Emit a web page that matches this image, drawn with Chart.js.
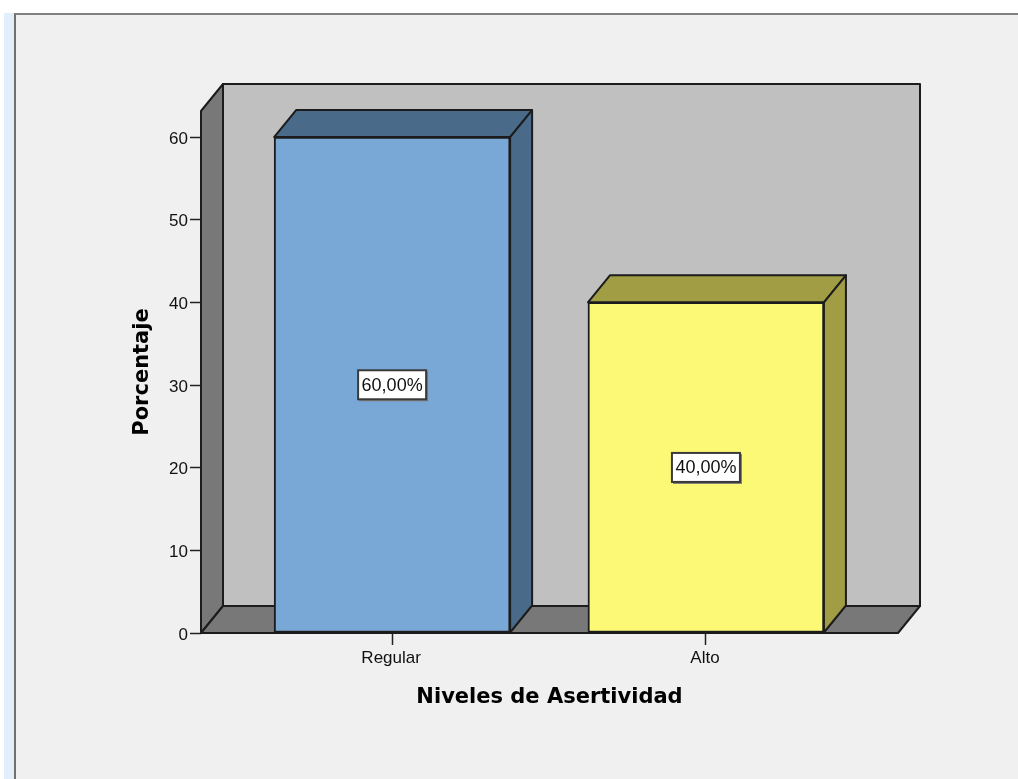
<!DOCTYPE html>
<html>
<head>
<meta charset="utf-8">
<script src="https://cdn.jsdelivr.net/npm/chart.js@4"></script>
<style>
html,body{margin:0;padding:0;background:#fff;width:1018px;height:779px;overflow:hidden}
#strip{position:absolute;left:4px;top:13px;width:10px;height:766px;background:#e2eefb}
#panel{position:absolute;left:14px;top:13px;width:1004px;height:766px;background:#f0f0f0;border-left:2px solid #707070;border-top:2px solid #808080;box-sizing:border-box}
canvas{position:absolute;left:0;top:0}
</style>
</head>
<body>
<div id="strip"></div><div id="panel"></div>
<canvas id="c" width="1018" height="779"></canvas>
<script>
const categories = ['Regular', 'Alto'];
const percentages = [60, 40];
const valueLabels = ['60,00%', '40,00%'];
const yTicks = [0, 10, 20, 30, 40, 50, 60];
const faceColors = ['#7aa8d6', '#fcf977'];
const shadeColors = ['#4a6a8a', '#a19d45'];
const xTitle = 'Niveles de Asertividad';
const yTitle = 'Porcentaje';

const DX = 22, DY = 27;
const EDGE = '#1c1c1c';

function poly(ctx, pts, fill) {
  ctx.beginPath();
  pts.forEach((p, i) => i ? ctx.lineTo(p[0], p[1]) : ctx.moveTo(p[0], p[1]));
  ctx.closePath();
  ctx.fillStyle = fill;
  ctx.fill();
  ctx.lineWidth = 2;
  ctx.strokeStyle = EDGE;
  ctx.lineJoin = 'round';
  ctx.stroke();
}

const box3d = {
  id: 'box3d',
  beforeDatasetsDraw(chart) {
    const {ctx, chartArea: a} = chart;
    ctx.save();
    poly(ctx, [[a.left + DX, a.top - DY], [a.right + DX, a.top - DY], [a.right + DX, a.bottom - DY], [a.left + DX, a.bottom - DY]], '#c0c0c0');
    poly(ctx, [[a.left, a.top], [a.left + DX, a.top - DY], [a.left + DX, a.bottom - DY], [a.left, a.bottom]], '#787878');
    poly(ctx, [[a.left, a.bottom], [a.left + DX, a.bottom - DY], [a.right + DX, a.bottom - DY], [a.right, a.bottom]], '#787878');
    chart.getDatasetMeta(0).data.forEach((bar, i) => {
      const p = bar.getProps(['x', 'y', 'base', 'width'], true);
      const l = p.x - p.width / 2, r = p.x + p.width / 2;
      poly(ctx, [[l, p.y], [l + DX, p.y - DY], [r + DX, p.y - DY], [r, p.y]], shadeColors[i]);
      poly(ctx, [[r, p.y], [r + DX, p.y - DY], [r + DX, p.base - DY], [r, p.base]], shadeColors[i]);
    });
    ctx.restore();
  },
  afterDatasetsDraw(chart) {
    const {ctx} = chart;
    ctx.save();
    ctx.font = '18px "Liberation Sans"';
    ctx.textAlign = 'center';
    ctx.textBaseline = 'middle';
    chart.getDatasetMeta(0).data.forEach((bar, i) => {
      const p = bar.getProps(['x', 'y', 'base'], true);
      const cy = (p.y + p.base) / 2;
      const w = 68, h = 29;
      const bx = p.x - w / 2, by = cy - h / 2;
      ctx.fillStyle = '#7c7c7c';
      ctx.fillRect(bx + 1, by + 1, w + 1, h + 1);
      ctx.fillStyle = '#fff';
      ctx.fillRect(bx, by, w, h);
      ctx.strokeStyle = '#3a3a3a';
      ctx.lineWidth = 2;
      ctx.strokeRect(bx, by, w, h);
      ctx.fillStyle = '#111';
      ctx.fillText(valueLabels[i], p.x, cy + 1);
    });
    ctx.restore();
  }
};

new Chart(document.getElementById('c'), {
  type: 'bar',
  data: {
    datasets: [{
      data: categories.map((c, i) => ({x: i + 1, y: percentages[i]})),
      backgroundColor: faceColors,
      borderColor: EDGE,
      borderWidth: 2,
      borderSkipped: false,
      barThickness: 236
    }]
  },
  options: {
    responsive: false,
    animation: false,
    events: [],
    layout: {padding: {left: 0, right: 120, top: 111, bottom: 0}},
    plugins: {legend: {display: false}, tooltip: {enabled: false}},
    scales: {
      x: {
        type: 'linear',
        offset: false,
        min: 0.391,
        max: 2.612,
        afterFit(s) { s.height = 146; },
        afterBuildTicks(s) { s.ticks = categories.map((c, i) => ({value: i + 1})); },
        grid: {offset: false, drawOnChartArea: false, drawTicks: true, tickLength: 12, tickColor: '#222', tickWidth: 1.5},
        border: {display: false},
        ticks: {
          autoSkip: false, maxRotation: 0, color: '#111', padding: 3, labelOffset: -1,
          font: {family: '"Liberation Sans"', size: 17},
          callback: v => categories[v - 1]
        },
        title: {display: true, text: xTitle, color: '#000',
          font: {family: '"DejaVu Sans"', size: 21, weight: 'bold'},
          padding: {top: 0, bottom: 69}}
      },
      y: {
        min: 0,
        max: 63.15,
        afterFit(s) { s.width = 201; },
        afterBuildTicks(s) { s.ticks = yTicks.map(v => ({value: v})); },
        grid: {drawOnChartArea: false, drawTicks: true, tickLength: 11, tickColor: '#222', tickWidth: 1.5},
        border: {display: false},
        ticks: {color: '#111', padding: 2, labelOffset: 2, font: {family: '"Liberation Sans"', size: 17}},
        title: {display: true, text: yTitle, color: '#000',
          font: {family: '"DejaVu Sans"', size: 21, weight: 'bold'},
          padding: {top: 130, bottom: 0}}
      }
    }
  },
  plugins: [box3d]
});
</script>
</body>
</html>
